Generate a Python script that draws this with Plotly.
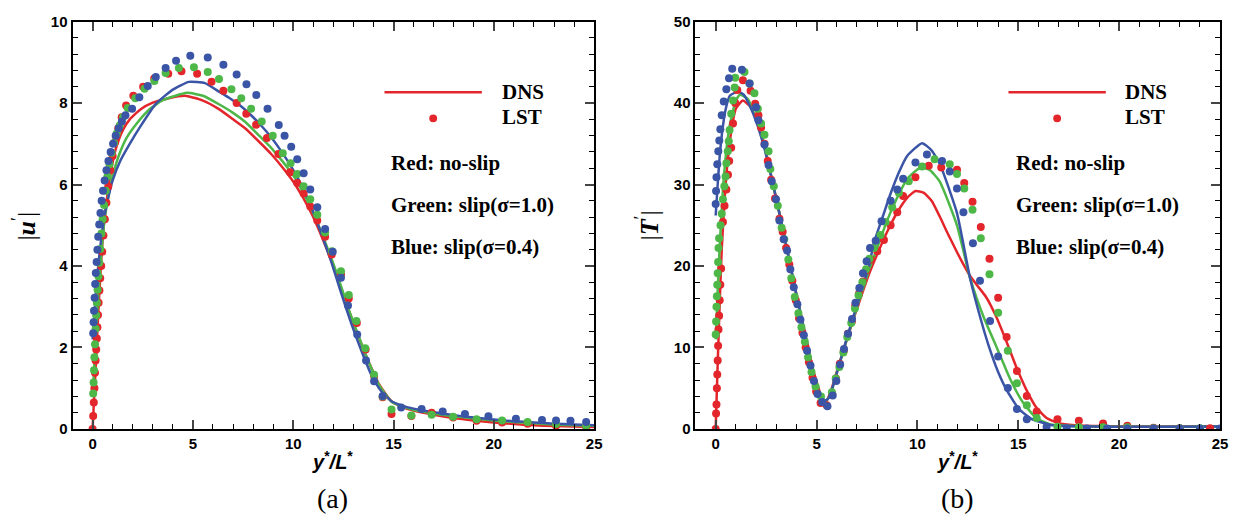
import plotly.graph_objects as go

W, H = 1243, 526

RED = "#E3262B"
GREEN = "#4DB848"
BLUE = "#3B55A6"

# ---------------- (a) |u'| profiles ----------------
u_dns_red_x = [0, 0.1, 0.2, 0.3, 0.45, 0.6, 0.8, 1.0, 1.2, 1.5, 1.85, 2.4, 3.0, 3.8, 4.6, 5.5, 6.3, 7.0, 7.6, 8.3,
               8.9, 9.5, 10.1, 10.9, 11.7, 12.2, 12.7, 13.2, 13.7, 14.3, 14.9, 15.3, 16, 17, 18, 19, 20, 21, 22, 23,
               24, 25]
u_dns_red_y = [0, 1.0, 2.0, 3.0, 4.3, 5.2, 5.95, 6.55, 6.95, 7.33, 7.6, 7.85, 8.01, 8.12, 8.18, 8.06, 7.85, 7.6, 7.38,
               7.05, 6.75, 6.4, 6.0, 5.3, 4.38, 3.72, 3.0, 2.34, 1.72, 1.08, 0.68, 0.57, 0.45, 0.35, 0.27, 0.21, 0.16,
               0.12, 0.09, 0.07, 0.06, 0.05]

u_dns_green_x = [0, 0.1, 0.2, 0.3, 0.45, 0.6, 0.8, 1.0, 1.3, 1.7, 2.2, 2.8, 3.5, 4.7, 5.5, 6.3, 7.0, 7.6, 8.3, 8.9,
                 9.5, 10.1, 10.9, 11.7, 12.2, 12.7, 13.2, 13.7, 14.3, 14.9, 15.3, 16, 17, 18, 19, 20, 21, 22, 23, 24,
                 25]
u_dns_green_y = [0.8, 1.7, 2.6, 3.4, 4.4, 5.15, 5.75, 6.2, 6.7, 7.15, 7.5, 7.83, 8.07, 8.25, 8.18, 7.97, 7.76, 7.54,
                 7.2, 6.9, 6.55, 6.15, 5.42, 4.45, 3.78, 3.03, 2.36, 1.72, 1.06, 0.67, 0.58, 0.47, 0.38, 0.31, 0.26,
                 0.21, 0.17, 0.14, 0.11, 0.09, 0.08]

u_dns_blue_x = [0, 0.1, 0.2, 0.3, 0.45, 0.6, 0.8, 1.0, 1.4, 1.85, 2.4, 3.15, 4.0, 4.8, 5.6, 6.3, 6.8, 7.4, 7.9, 8.4,
                8.9, 9.4, 9.9, 10.4, 10.9, 11.4, 11.9, 12.4, 12.9, 13.4, 13.9, 14.4, 14.9, 15.4, 16, 17, 18, 19, 20,
                21, 22, 23, 24, 25]
u_dns_blue_y = [2.2, 2.9, 3.55, 4.1, 4.75, 5.25, 5.72, 6.1, 6.6, 7.0, 7.44, 7.98, 8.33, 8.52, 8.49, 8.28, 8.13, 7.92,
                7.7, 7.45, 7.16, 6.82, 6.44, 6.0, 5.45, 4.8, 4.1, 3.32, 2.58, 1.92, 1.32, 0.92, 0.68, 0.58, 0.5, 0.41,
                0.34, 0.28, 0.23, 0.19, 0.16, 0.13, 0.11, 0.09]

u_lst_red_x = [0, 0.03, 0.06, 0.09, 0.12, 0.15, 0.18, 0.21, 0.24, 0.27, 0.3, 0.34, 0.38, 0.43, 0.48, 0.54, 0.61, 0.69,
               0.78, 0.88, 1.0, 1.13, 1.28, 1.45, 1.67, 2.03, 2.52, 3.07, 3.77, 4.43, 5.21, 5.93, 6.52, 7.18, 7.66, 8.15,
               8.69, 9.26, 9.84, 10.2, 10.52, 10.85, 11.2, 11.59, 11.92, 12.38, 12.77, 13.17, 13.61, 14.03, 14.46, 14.9,
               15.89, 16.9, 17.97, 19.14, 20.41, 21.68, 23.1, 24.6]
u_lst_red_y = [0, 0.32, 0.65, 1.0, 1.38, 1.68, 1.95, 2.22, 2.5, 2.8, 3.1, 3.4, 3.7, 4.0, 4.35, 4.75, 5.15, 5.55, 5.95,
               6.35, 6.7, 7.05, 7.38, 7.65, 7.94, 8.18, 8.4, 8.6, 8.72, 8.78, 8.72, 8.52, 8.3, 8.0, 7.74, 7.47, 7.14,
               6.75, 6.3, 6.04, 5.78, 5.46, 5.12, 4.72, 4.28, 3.8, 3.2, 2.6, 1.95, 1.3, 0.78, 0.37, 0.32, 0.4, 0.28,
               0.2, 0.16, 0.13, 0.08, 0.06]

u_lst_green_x = [0.03, 0.05, 0.07, 0.09, 0.12, 0.15, 0.18, 0.21, 0.25, 0.29, 0.33, 0.38, 0.44, 0.5, 0.57, 0.65, 0.74,
                 0.84, 0.95, 1.07, 1.2, 1.35, 1.52, 1.75, 2.13, 2.59, 3.08, 3.64, 4.3, 5.05, 5.74, 6.3, 6.92, 7.41, 7.9,
                 8.43, 8.98, 9.48, 9.87, 10.2, 10.52, 10.85, 11.2, 11.59, 11.93, 12.38, 12.77, 13.15, 13.59, 14.03,
                 14.46, 14.9, 15.89, 16.9, 17.97, 19.14, 20.41, 21.68, 23.1, 24.6]
u_lst_green_y = [0.87, 1.14, 1.44, 1.76, 2.08, 2.46, 2.79, 3.1, 3.42, 3.75, 4.08, 4.42, 4.8, 5.15, 5.5, 5.85, 6.2, 6.5,
                 6.78, 7.02, 7.25, 7.45, 7.65, 7.88, 8.12, 8.35, 8.54, 8.74, 8.86, 8.88, 8.76, 8.59, 8.34, 8.12, 7.86,
                 7.55, 7.2, 6.77, 6.52, 6.26, 5.96, 5.64, 5.26, 4.82, 4.36, 3.87, 3.29, 2.65, 1.98, 1.33, 0.8, 0.48,
                 0.33, 0.35, 0.3, 0.24, 0.21, 0.17, 0.12, 0.08]

u_lst_blue_x = [0.03, 0.05, 0.07, 0.1, 0.13, 0.16, 0.2, 0.24, 0.28, 0.33, 0.39, 0.45, 0.52, 0.6, 0.69, 0.79, 0.9, 1.02,
                1.15, 1.3, 1.46, 1.64, 1.97, 2.33, 2.75, 3.15, 3.64, 4.16, 4.87, 5.74, 6.52, 7.18, 7.67, 8.16, 8.72,
                9.28, 9.57, 9.9, 10.2, 10.52, 10.85, 11.2, 11.59, 11.97, 12.38, 12.73, 13.19, 13.63, 14.03, 14.46,
                15.38, 16.4, 17.45, 18.56, 19.73, 21.1, 22.4, 23.1, 23.82, 24.6]
u_lst_blue_y = [2.35, 2.62, 2.9, 3.22, 3.56, 3.83, 4.1, 4.4, 4.72, 5.02, 5.3, 5.6, 5.85, 6.1, 6.35, 6.58, 6.8, 7.0, 7.2,
                7.38, 7.55, 7.7, 7.86, 8.14, 8.42, 8.64, 8.86, 9.04, 9.16, 9.12, 8.94, 8.7, 8.46, 8.2, 7.86, 7.46, 7.2,
                6.93, 6.62, 6.28, 5.88, 5.44, 4.91, 4.35, 3.71, 3.03, 2.32, 1.68, 1.17, 0.81, 0.53, 0.49, 0.43, 0.37,
                0.31, 0.25, 0.22, 0.21, 0.2, 0.17]

# ---------------- (b) |T'| profiles ----------------
t_dns_red_x = [0, 0.1, 0.2, 0.3, 0.45, 0.6, 0.8, 1.0, 1.35, 1.7, 2.0, 2.4, 2.8, 3.2, 3.6, 4.0, 4.4, 4.8, 5.1, 5.4,
               5.7, 6.0, 6.4, 6.8, 7.2, 7.6, 8.0, 8.5, 9.0, 9.5, 9.9, 10.3, 10.7, 11.1, 11.5, 11.9, 12.3, 12.6, 13.0,
               13.4, 13.9, 14.4, 14.9, 15.4, 15.9, 16.4, 17.0, 17.8, 19, 20, 22, 25]
t_dns_red_y = [0, 8, 15.5, 22, 28.5, 33, 37, 39.3, 40.3, 39.6, 38.0, 35.0, 30.5, 26.0, 21.3, 16.5, 12.0, 7.5, 5.0, 3.0,
               4.6, 7.0, 10.2, 13.3, 16.2, 19.0, 21.4, 24.2, 26.6, 28.4, 29.2, 29.0, 28.0, 26.1, 24.0, 22.0, 20.1,
               18.8, 17.5, 16.2, 13.8, 10.8, 7.6, 4.8, 2.6, 1.35, 0.7, 0.45, 0.35, 0.3, 0.3, 0.3]

t_dns_green_x = [0, 0.1, 0.2, 0.35, 0.5, 0.7, 1.0, 1.2, 1.6, 2.0, 2.4, 2.8, 3.2, 3.6, 4.0, 4.4, 4.8, 5.1, 5.35, 5.7,
                 6.0, 6.4, 6.8, 7.2, 7.6, 8.0, 8.5, 9.0, 9.5, 10.15, 10.6, 11.1, 11.96, 12.6, 13.27, 13.93, 14.6,
                 15.23, 15.91, 16.6, 18.6, 25]
t_dns_green_y = [11, 17, 22.5, 29, 33.5, 37.3, 40.3, 41.0, 40.5, 38.0, 34.8, 30.5, 26.0, 21.3, 16.5, 12.0, 7.4, 4.8,
                 3.1, 4.3, 6.9, 10.2, 13.4, 16.5, 19.5, 22.2, 25.6, 28.4, 30.7, 32.1, 31.8, 30.4, 25.0, 18.6, 13.8,
                 10.0, 6.1, 3.25, 1.3, 0.56, 0.3, 0.3]

t_dns_blue_x = [0, 0.1, 0.2, 0.35, 0.5, 0.7, 1.1, 1.4, 1.7, 2.0, 2.4, 2.8, 3.2, 3.6, 4.0, 4.4, 4.8, 5.1, 5.3, 5.6, 6.0,
                6.4, 6.8, 7.2, 7.6, 7.84, 8.3, 8.67, 9.1, 9.49, 10.23, 10.7, 11.13, 11.96, 12.6, 13.1, 13.52, 14.0,
                14.44, 15.03, 15.62, 16.6, 18.6, 25]
t_dns_blue_y = [26.2, 30, 33.5, 37, 39.3, 40.9, 41.4, 41.0, 39.6, 37.8, 34.6, 30.5, 26.0, 21.3, 16.5, 12.0, 7.4, 4.6,
                3.3, 3.8, 6.8, 10.3, 13.6, 16.8, 20.0, 22.8, 26.2, 28.9, 31.6, 33.5, 35.08, 34.2, 32.4, 26.5, 18.6,
                13.8, 10.3, 7.0, 4.7, 2.46, 1.27, 0.5, 0.3, 0.3]

t_lst_red_x = [0, 0.02, 0.04, 0.06, 0.08, 0.1, 0.12, 0.14, 0.17, 0.2, 0.23, 0.27, 0.36, 0.44, 0.53, 0.61, 0.67, 0.77,
               0.86, 0.97, 1.07, 1.35, 1.73, 1.96, 2.12, 2.25, 2.42, 2.58, 2.75, 2.94, 3.16, 3.32, 3.49, 3.65, 3.8,
               3.97, 4.13, 4.3, 4.46, 4.62, 4.8, 4.98, 5.2, 5.5, 5.78, 5.96, 6.15, 6.35, 6.55, 6.75, 6.92, 7.1, 7.3,
               7.48, 7.7, 8.01, 8.34, 8.67, 9.0, 9.29, 9.9, 10.56, 11.18, 11.96, 12.32, 12.73, 13.14, 13.57, 14.0,
               14.42, 14.93, 15.42, 15.91, 16.94, 18.0, 19.2, 20.4, 21.7, 23.0, 24.5]
t_lst_red_y = [0, 1.9, 3.0, 5.0, 6.7, 8.4, 10.2, 12.2, 13.9, 15.8, 17.7, 19.7, 25.4, 27.4, 29.4, 31.2, 32.9, 34.5,
               37.5, 40.0, 41.6, 42.8, 41.5, 39.9, 38.5, 37.0, 35.0, 32.9, 30.6, 28.3, 25.8, 24.2, 22.2, 20.2, 18.2,
               15.8, 13.6, 11.8, 10.0, 8.2, 6.3, 4.6, 3.2, 2.9, 4.3, 6.2, 8.0, 9.6, 11.7, 13.2, 15.2, 16.6, 18.1,
               19.5, 20.8, 21.8, 23.2, 25.0, 26.6, 28.6, 30.9, 32.3, 32.1, 31.8, 30.2, 27.9, 24.8, 20.9, 16.1, 11.3,
               7.1, 4.05, 2.14, 1.2, 1.0, 0.67, 0.4, 0.16, 0.1, 0.1]

t_lst_green_x = [0, 0.02, 0.04, 0.06, 0.08, 0.1, 0.12, 0.14, 0.17, 0.24, 0.3, 0.36, 0.43, 0.49, 0.53, 0.6, 0.65, 0.69,
                 0.77, 0.86, 0.94, 0.97, 1.43, 1.68, 1.92, 2.09, 2.25, 2.42, 2.62, 2.71, 2.88, 3.08, 3.27, 3.4, 3.6,
                 3.75, 3.92, 4.1, 4.25, 4.42, 4.58, 4.75, 4.95, 5.22, 5.76, 5.95, 6.13, 6.33, 6.52, 6.72, 6.9, 7.08,
                 7.27, 7.45, 7.62, 7.85, 8.17, 8.42, 8.75, 9.08, 9.57, 10.23, 10.85, 11.6, 11.96, 12.32, 12.73, 13.14,
                 13.57, 14.0, 14.48, 14.93, 15.42, 15.91, 16.94, 18.0, 19.2, 20.4, 21.7, 23.0, 24.0]
t_lst_green_y = [11.6, 13.2, 15.0, 16.3, 17.7, 19.1, 20.5, 22.2, 23.4, 25.0, 26.4, 28.2, 29.8, 31.0, 32.6, 34.1, 35.3,
                 36.7, 38.7, 40.3, 41.9, 43.1, 43.8, 42.4, 41.2, 39.3, 37.5, 36.1, 34.1, 31.9, 29.8, 27.4, 24.7, 23.3,
                 20.8, 18.5, 16.2, 14.2, 12.5, 10.7, 8.8, 7.0, 5.2, 4.0, 4.5, 6.2, 7.6, 9.4, 11.3, 13.0, 14.8, 16.4,
                 18.0, 19.6, 20.9, 22.2, 23.8, 25.4, 27.2, 29.0, 30.4, 32.2, 33.1, 32.5, 31.3, 29.5, 26.9, 23.4, 19.0,
                 14.25, 9.6, 5.6, 2.9, 1.35, 0.28, 0.2, 0.2, 0.2, 0.1, 0.1, 0.1]

t_lst_blue_x = [0, 0.02, 0.04, 0.08, 0.13, 0.18, 0.23, 0.3, 0.4, 0.53, 0.66, 0.82, 1.3, 1.68, 2.0, 2.12, 2.42, 2.62,
                2.78, 2.99, 3.16, 3.37, 3.54, 3.7, 3.87, 4.05, 4.2, 4.37, 4.53, 4.7, 4.87, 5.05, 5.28, 5.54, 5.8, 5.98,
                6.17, 6.36, 6.56, 6.76, 6.93, 7.12, 7.3, 7.48, 7.65, 7.93, 8.22, 8.67, 9.0, 9.29, 9.9, 10.47, 11.22,
                11.6, 11.96, 12.28, 12.75, 13.1, 13.6, 14.0, 14.48, 14.93, 15.42, 16.4, 17.4, 18.4, 19.4, 20.4,
                21.7, 23.0, 24.0, 25.0]
t_lst_blue_y = [27.6, 29.2, 30.9, 32.5, 34.1, 35.4, 36.8, 38.5, 40.2, 41.7, 43.05, 44.2, 44.1, 42.4, 39.5, 37.9, 34.9,
                32.4, 30.4, 28.2, 25.6, 23.3, 21.9, 19.6, 17.4, 15.3, 13.4, 11.5, 9.6, 7.8, 5.9, 4.3, 3.3, 2.8, 4.1,
                5.9, 7.9, 9.8, 11.7, 13.5, 15.5, 17.3, 19.1, 20.6, 22.2, 23.1, 25.5, 28.0, 29.4, 30.7, 32.7, 33.7,
                32.9, 31.6, 29.5, 26.6, 22.8, 18.2, 13.25, 8.9, 5.04, 2.46, 1.19, 0.28, 0.08, 0.05, 0.05, 0.05, 0.05,
                0.05, 0.05, 0.05]

# tick labels
x_ticks = [0, 5, 10, 15, 20, 25]
u_ticks = [0, 2, 4, 6, 8, 10]
t_ticks = [0, 10, 20, 30, 40, 50]

# ---------------- figure ----------------
def px(x):
    return x / W


def py(y):
    return 1 - y / H


fig = go.Figure()

panels = [
    ("x", "y", [(u_dns_red_x, u_dns_red_y, u_lst_red_x, u_lst_red_y, RED),
                (u_dns_green_x, u_dns_green_y, u_lst_green_x, u_lst_green_y, GREEN),
                (u_dns_blue_x, u_dns_blue_y, u_lst_blue_x, u_lst_blue_y, BLUE)]),
    ("x2", "y2", [(t_dns_red_x, t_dns_red_y, t_lst_red_x, t_lst_red_y, RED),
                  (t_dns_green_x, t_dns_green_y, t_lst_green_x, t_lst_green_y, GREEN),
                  (t_dns_blue_x, t_dns_blue_y, t_lst_blue_x, t_lst_blue_y, BLUE)]),
]

for xa, ya, series in panels:
    for dx, dy, lx, ly, col in series:
        fig.add_trace(go.Scatter(x=dx, y=dy, mode="lines", xaxis=xa, yaxis=ya,
                                 line=dict(color=col, width=2.5, shape="spline", smoothing=0.5),
                                 showlegend=False, hoverinfo="skip"))
    for dx, dy, lx, ly, col in series:
        fig.add_trace(go.Scatter(x=lx, y=ly, mode="markers", xaxis=xa, yaxis=ya,
                                 marker=dict(color=col, size=8, line=dict(width=0)),
                                 showlegend=False, hoverinfo="skip"))

tickfont = dict(family="Liberation Sans", size=15, color="black", weight="bold")

common_x = dict(range=[-1, 25], tickvals=x_ticks, ticks="inside", ticklen=9, tickwidth=2,
                showline=True, linewidth=2, linecolor="black", mirror="allticks", showgrid=False,
                zeroline=False, tickfont=tickfont,
                minor=dict(dtick=1, tick0=0, ticks="inside", ticklen=5, tickwidth=1.3, tickcolor="black"))
common_y = dict(ticks="inside", ticklen=9, tickwidth=2, showline=True, linewidth=2, linecolor="black",
                mirror="allticks", showgrid=False, zeroline=False, tickfont=tickfont)

y_dom = [py(434), py(13)]
fig.update_layout(
    width=W, height=H, margin=dict(l=0, r=0, t=0, b=0),
    paper_bgcolor="white", plot_bgcolor="white", showlegend=False,
    xaxis=dict(domain=[px(73), px(598)], anchor="y", **common_x),
    yaxis=dict(domain=y_dom, anchor="x", range=[0, 10], tickvals=u_ticks,
               minor=dict(dtick=0.4, tick0=0, ticks="inside", ticklen=5, tickwidth=1.3, tickcolor="black"),
               **common_y),
    xaxis2=dict(domain=[px(700), px(1228)], anchor="y2", **common_x),
    yaxis2=dict(domain=y_dom, anchor="x2", range=[0, 50], tickvals=t_ticks,
                minor=dict(dtick=2, tick0=0, ticks="inside", ticklen=5, tickwidth=1.3, tickcolor="black"),
                **common_y),
)

annotations = []
shapes = []

serif_b = dict(family="Liberation Serif", size=21, color="black", weight="bold")

# per-panel decorations: legend sample positions, y-axis title and caption
panel_decor = [
    dict(line_x0=387, line_x1=485, dns_x=503, text_x=392, ytitle_x=25, ytitle="|<b><i>u</i></b><sup>′</sup>|",
         center_x=335, cap="(a)"),
    dict(line_x0=1015, line_x1=1113, dns_x=1130, text_x=1021, ytitle_x=652, ytitle="|<b><i>T</i></b><sup>′</sup>|",
         center_x=964, cap="(b)"),
]

for d in panel_decor:
    shapes.append(dict(type="line", xref="paper", yref="paper",
                       x0=px(d["line_x0"]), x1=px(d["line_x1"]), y0=py(86), y1=py(86),
                       line=dict(color=RED, width=2.5)))
    cx = (d["line_x0"] + d["line_x1"]) / 2
    shapes.append(dict(type="circle", xref="paper", yref="paper",
                       x0=px(cx - 4), x1=px(cx + 4), y0=py(113 + 4), y1=py(113 - 4),
                       fillcolor=RED, line=dict(width=0)))
    for txt, yy, xx in [("DNS", 86, d["dns_x"]), ("LST", 112, d["dns_x"]),
                        ("Red: no-slip", 159, d["text_x"]),
                        ("Green: slip(σ=1.0)", 203, d["text_x"]),
                        ("Blue: slip(σ=0.4)", 246, d["text_x"])]:
        annotations.append(dict(text=txt, xref="paper", yref="paper", x=px(xx), y=py(yy),
                                xanchor="left", yanchor="middle", showarrow=False, font=serif_b))
    annotations.append(dict(text=d["ytitle"], xref="paper", yref="paper", x=px(d["ytitle_x"]), y=py(224),
                            xanchor="center", yanchor="middle", showarrow=False, textangle=-90,
                            font=dict(family="Liberation Serif", size=26, color="black")))
    annotations.append(dict(text="<b><i>y</i></b><sup><b>*</b></sup><b><i>/L</i></b><sup><b>*</b></sup>",
                            xref="paper", yref="paper", x=px(d["center_x"]), y=py(467),
                            xanchor="center", yanchor="middle", showarrow=False,
                            font=dict(family="Liberation Sans", size=20, color="black")))
    annotations.append(dict(text=d["cap"], xref="paper", yref="paper", x=px(d["center_x"]), y=py(506),
                            xanchor="center", yanchor="middle", showarrow=False,
                            font=dict(family="Liberation Serif", size=28, color="black")))

fig.update_layout(annotations=annotations, shapes=shapes)

fig.write_html("out.html")
